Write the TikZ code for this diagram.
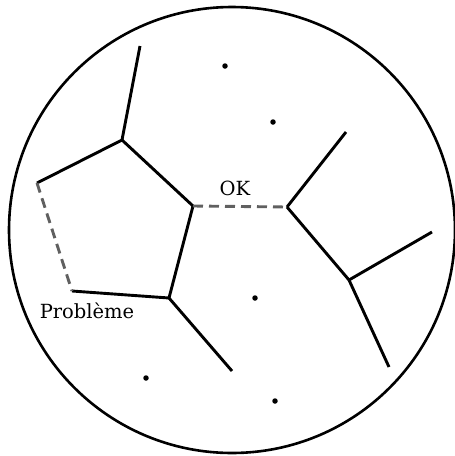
\documentclass[tikz,border=0pt]{standalone}
\usepackage{fontspec}
\setmainfont{DejaVu Serif}
\usetikzlibrary{positioning}
\definecolor{dashgray}{RGB}{96, 96, 96}

\begin{document}
\begin{tikzpicture}[x=1pt, y=-1pt,
    edge/.style={line width=2.9pt},
    flipedge/.style={line width=2.9pt, draw=dashgray, dash pattern=on 10pt off 6pt},
    site/.style={circle, fill=black, inner sep=0pt, minimum size=5.5pt},
    lbl/.style={font=\fontsize{19.5}{22}\selectfont}]
  \useasboundingbox (0, 0) rectangle (455, 456);

  % Boundary circle
  \draw[line width=2.6pt] (232, 230) circle (223);

  % Voronoi vertices
  \coordinate (va) at (122, 140);
  \coordinate (vb) at (37, 183);
  \coordinate (vc) at (193, 206);
  \coordinate (vd) at (287, 207);
  \coordinate (ve) at (349, 280);
  \coordinate (vf) at (169, 298);
  \coordinate (vg) at (72, 291);

  % Free ends of the unbounded edges
  \coordinate (ta) at (140, 46);
  \coordinate (td) at (346, 132);
  \coordinate (te1) at (432, 232);
  \coordinate (te2) at (389, 367);
  \coordinate (tf) at (232, 371);

  % Edges
  \draw[edge] (va) -- (ta);
  \draw[edge] (va) -- (vb);
  \draw[edge] (va) -- (vc);
  \draw[edge] (vg) -- (vf);
  \draw[edge] (vf) -- (vc);
  \draw[edge] (vf) -- (tf);
  \draw[edge] (vd) -- (td);
  \draw[edge] (vd) -- (ve);
  \draw[edge] (ve) -- (te1);
  \draw[edge] (ve) -- (te2);

  % Flipped edges
  \draw[flipedge] (vc) -- (vd);
  \draw[flipedge] (vb) -- (vg);

  % Sites
  \node[site] (s1) at (225, 66) {};
  \node[site] (s2) at (273, 122) {};
  \node[site] (s3) at (255, 298) {};
  \node[site] (s4) at (146, 378) {};
  \node[site] (s5) at (275, 401) {};

  % Labels
  \node[lbl] (ok) at (235, 188) {OK};
  \node[lbl] (probleme) at (87, 311) {Problème};
\end{tikzpicture}
\end{document}
